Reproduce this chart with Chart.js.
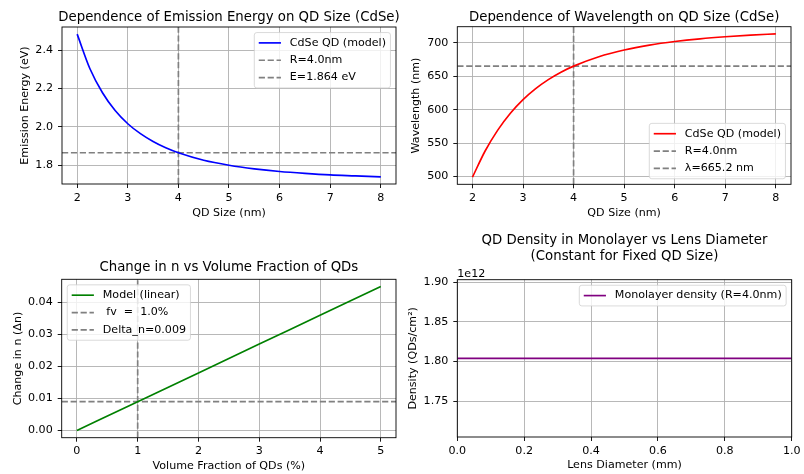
<!DOCTYPE html>
<html>
<head>
<meta charset="utf-8">
<script src="https://cdn.jsdelivr.net/npm/chart.js@4"></script>
<style>
  html, body { margin: 0; padding: 0; background: #fff; }
  #fig { position: relative; width: 804px; height: 474px; }
  #fig canvas { position: absolute; }
</style>
</head>
<body>
<div id="fig">
  <canvas id="c1" width="402" height="237" style="left:0;top:0"></canvas>
  <canvas id="c2" width="402" height="237" style="left:402px;top:0"></canvas>
  <canvas id="c3" width="402" height="250" style="left:0;top:224px"></canvas>
  <canvas id="c4" width="402" height="250" style="left:402px;top:224px"></canvas>
</div>
<script>
// valeurs
const qdSize = [2, 2.25, 2.5, 2.75, 3, 3.25, 3.5, 3.75, 4, 4.5, 5, 5.5, 6, 6.5, 7, 7.5, 8];
const emission = [2.485, 2.305, 2.178, 2.085, 2.016, 1.964, 1.923, 1.890, 1.864, 1.825, 1.799, 1.780, 1.766, 1.756, 1.748, 1.743, 1.738];
const wavelength = [499.0, 538.1, 569.4, 594.6, 615.0, 631.5, 645.0, 656.1, 665.2, 679.3, 689.3, 696.6, 702.0, 706.1, 709.2, 711.6, 713.5];

const volFraction = [0, 1, 2, 3, 4, 5];
const deltaN = [0, 0.009, 0.018, 0.027, 0.036, 0.045];

const lensDiameter = [0, 0.25, 0.5, 0.75, 1.0];
const density = [1.804e12, 1.804e12, 1.804e12, 1.804e12, 1.804e12];

const chosenR = 4.0;
const chosenE = 1.864;
const chosenLambda = 665.2;
const chosenFv = 1.0;
const chosenDn = 0.009;

const sizeTicks = [2, 3, 4, 5, 6, 7, 8];
const energyTicks = [1.8, 2.0, 2.2, 2.4];
const lambdaTicks = [500, 550, 600, 650, 700];
const fvTicks = [0, 1, 2, 3, 4, 5];
const dnTicks = [0, 0.01, 0.02, 0.03, 0.04];
const lensTicks = [0, 0.2, 0.4, 0.6, 0.8, 1.0];
const densityTicks = [1.75e12, 1.80e12, 1.85e12, 1.90e12];

// marges type matplotlib (5 %)
function lims(arr) {
  const lo = Math.min(...arr), hi = Math.max(...arr);
  const m = (hi - lo) * 0.05;
  return [lo - m, hi + m];
}

const FS = 11.1;
const LW = 1.67;
const DASH = [6.2, 2.7];
Chart.defaults.font.family = 'DejaVu Sans';
Chart.defaults.color = '#000';

function pts(xs, ys) { return xs.map((x, i) => ({x: x, y: ys[i]})); }

function scaleX(lim, ticks, fmt, title, h, titlePad) {
  return {
    type: 'linear', position: 'bottom', min: lim[0], max: lim[1],
    afterBuildTicks: s => { s.ticks = ticks.map(v => ({value: v})); },
    afterFit: s => { s.height = h; },
    ticks: { callback: fmt, font: {size: FS}, color: '#000', padding: 3, maxRotation: 0, autoSkip: false },
    grid: { color: '#b0b0b0', lineWidth: 0.9, tickColor: '#000', tickLength: 4, tickWidth: 0.9 },
    border: { display: false },
    title: { display: true, text: title, font: {size: FS}, color: '#000', padding: {top: 0, bottom: titlePad} }
  };
}

function scaleY(lim, ticks, fmt, title, w, titlePad) {
  return {
    type: 'linear', position: 'left', min: lim[0], max: lim[1],
    afterBuildTicks: s => { s.ticks = ticks.map(v => ({value: v})); },
    afterFit: s => { s.width = w; },
    ticks: { callback: fmt, font: {size: FS}, color: '#000', padding: 5, autoSkip: false },
    grid: { color: '#b0b0b0', lineWidth: 0.9, tickColor: '#000', tickLength: 4, tickWidth: 0.9 },
    border: { display: false },
    title: { display: true, text: title, font: {size: FS}, color: '#000', padding: {top: titlePad, bottom: 0} }
  };
}

function curve(label, xs, ys, color) {
  return { label: label, data: pts(xs, ys), borderColor: color, borderWidth: LW,
           pointRadius: 0, fill: false, cubicInterpolationMode: 'monotone' };
}
function dashed(label, data) {
  return { label: label, data: data, borderColor: '#808080', borderWidth: LW,
           borderDash: DASH, pointRadius: 0, fill: false };
}

// cadre, titre, légende
const decor = {
  id: 'decor',
  afterDraw(chart, args, o) {
    const ctx = chart.ctx, a = chart.chartArea;
    ctx.save();
    ctx.strokeStyle = '#000';
    ctx.lineWidth = 0.9;
    ctx.strokeRect(a.left, a.top, a.right - a.left, a.bottom - a.top);

    ctx.fillStyle = '#000';
    ctx.font = '13.3px "DejaVu Sans"';
    ctx.textAlign = 'center';
    ctx.textBaseline = 'alphabetic';
    o.title.forEach((t, i) => ctx.fillText(t, (a.left + a.right) / 2, o.titleY + i * 15.5));

    ctx.font = FS + 'px "DejaVu Sans"';
    if (o.offset) {
      ctx.textAlign = 'left';
      ctx.fillText(o.offset, a.left, a.top - 3);
    }

    const items = chart.data.datasets;
    const em = FS, pad = 0.4 * em, hl = 2 * em, gap = 0.8 * em, sp = 0.5 * em, ax = 0.5 * em, rowH = 11.8;
    const tw = Math.max(...items.map(d => ctx.measureText(d.label).width));
    const w = pad + hl + gap + tw + pad;
    const h = 2 * pad + items.length * rowH + (items.length - 1) * sp;
    const x = o.loc.includes('right') ? a.right - ax - w : a.left + ax;
    const y = o.loc.includes('upper') ? a.top + ax : a.bottom - ax - h;
    ctx.beginPath();
    ctx.roundRect(x, y, w, h, 2.5);
    ctx.fillStyle = 'rgba(255,255,255,0.8)';
    ctx.fill();
    ctx.strokeStyle = 'rgba(204,204,204,0.8)';
    ctx.lineWidth = 0.9;
    ctx.stroke();
    items.forEach((d, i) => {
      const cy = y + pad + rowH / 2 + i * (rowH + sp);
      ctx.strokeStyle = d.borderColor;
      ctx.lineWidth = d.borderWidth;
      ctx.setLineDash(d.borderDash || []);
      ctx.beginPath();
      ctx.moveTo(x + pad, cy);
      ctx.lineTo(x + pad + hl, cy);
      ctx.stroke();
      ctx.setLineDash([]);
      ctx.fillStyle = '#000';
      ctx.textAlign = 'left';
      ctx.textBaseline = 'middle';
      ctx.fillText(d.label, x + pad + hl + gap, cy);
    });
    ctx.restore();
  }
};

function make(id, datasets, scales, padding, deco) {
  return new Chart(document.getElementById(id), {
    type: 'line',
    data: { datasets: datasets },
    options: {
      responsive: false, animation: false, devicePixelRatio: 1, events: [],
      layout: { padding: padding },
      scales: scales,
      plugins: { legend: {display: false}, tooltip: {enabled: false}, decor: deco }
    },
    plugins: [decor]
  });
}

// 1 : énergie
const xl1 = lims(qdSize), yl1 = lims(emission);
make('c1', [
  curve('CdSe QD (model)', qdSize, emission, '#0000ff'),
  dashed('R=' + chosenR.toFixed(1) + 'nm', [{x: chosenR, y: yl1[0]}, {x: chosenR, y: yl1[1]}]),
  dashed('E=' + chosenE.toFixed(3) + ' eV', [{x: xl1[0], y: chosenE}, {x: xl1[1], y: chosenE}])
], {
  x: scaleX(xl1, sizeTicks, v => String(v), 'QD Size (nm)', 53, 17),
  y: scaleY(yl1, energyTicks, v => v.toFixed(1), 'Emission Energy (eV)', 62, 18.6)
}, {left: 0, right: 6, top: 27, bottom: 0},
{ title: ['Dependence of Emission Energy on QD Size (CdSe)'], titleY: 20.5, loc: 'upper right' });

// 2 : longueur d'onde
const xl2 = lims(qdSize), yl2 = lims(wavelength);
make('c2', [
  curve('CdSe QD (model)', qdSize, wavelength, '#ff0000'),
  dashed('R=' + chosenR.toFixed(1) + 'nm', [{x: chosenR, y: yl2[0]}, {x: chosenR, y: yl2[1]}]),
  dashed('λ=' + chosenLambda.toFixed(1) + ' nm', [{x: xl2[0], y: chosenLambda}, {x: xl2[1], y: chosenLambda}])
], {
  x: scaleX(xl2, sizeTicks, v => String(v), 'QD Size (nm)', 52.7, 17),
  y: scaleY(yl2, lambdaTicks, v => String(v), 'Wavelength (nm)', 55.3, 7.3)
}, {left: 0, right: 13, top: 26.7, bottom: 0},
{ title: ['Dependence of Wavelength on QD Size (CdSe)'], titleY: 20.5, loc: 'lower right' });

// 3 : delta n
const xl3 = lims(volFraction), yl3 = lims(deltaN);
make('c3', [
  curve('Model (linear)', volFraction, deltaN, '#008000'),
  dashed(' fv  =  ' + chosenFv.toFixed(1) + '%', [{x: chosenFv, y: yl3[0]}, {x: chosenFv, y: yl3[1]}]),
  dashed('Delta_n=' + chosenDn.toFixed(3), [{x: xl3[0], y: chosenDn}, {x: xl3[1], y: chosenDn}])
], {
  x: scaleX(xl3, fvTicks, v => String(v), 'Volume Fraction of QDs (%)', 36.3, 1),
  y: scaleY(yl3, dnTicks, v => v.toFixed(2), 'Change in n (Δn)', 61.7, 11.3)
}, {left: 0, right: 6, top: 55.3, bottom: 0},
{ title: ['Change in n vs Volume Fraction of QDs'], titleY: 47, loc: 'upper left' });

// 4 : densité
make('c4', [
  curve('Monolayer density (R=4.0nm)', lensDiameter, density, '#800080')
], {
  x: scaleX([0, 1], lensTicks, v => v.toFixed(1), 'Lens Diameter (mm)', 37, 2),
  y: scaleY([1.7048e12, 1.9032e12], densityTicks, v => (v / 1e12).toFixed(2), 'Density (QDs/cm²)', 55.3, 4.7)
}, {left: 0, right: 12.3, top: 55.7, bottom: 0},
{ title: ['QD Density in Monolayer vs Lens Diameter', '(Constant for Fixed QD Size)'], titleY: 20, offset: '1e12', loc: 'upper right' });
</script>
</body>
</html>
